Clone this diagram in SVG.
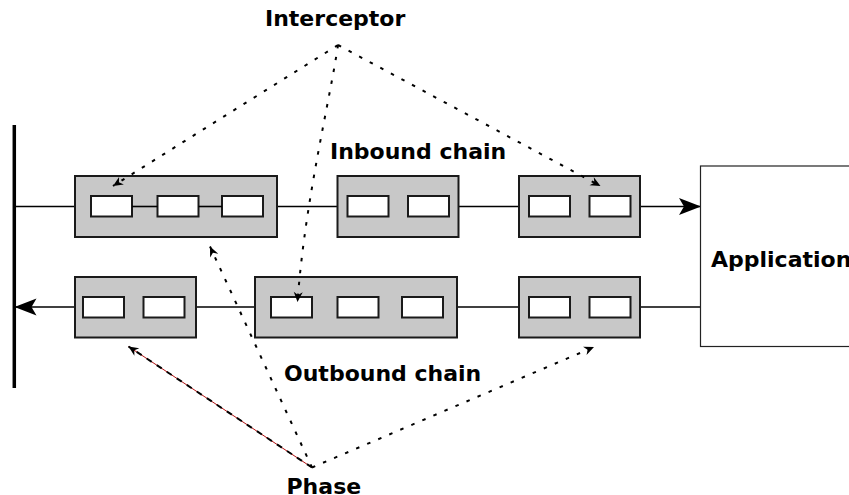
<svg xmlns="http://www.w3.org/2000/svg" width="849" height="495" viewBox="0 0 849 495">
<style>
.phase{fill:#c8c8c8;stroke:#1a1a1a;stroke-width:2}
.icp{fill:#ffffff;stroke:#1a1a1a;stroke-width:2}
.lbl{font-family:"DejaVu Sans",sans-serif;font-weight:bold;font-size:22px;fill:#000}
.chain{stroke:#000;stroke-width:1.6;fill:none}
.dot{stroke:#000;stroke-width:2;fill:none;stroke-dasharray:3.5,8.5}
</style>
<defs>
<marker id="big" viewBox="-23 -10 24 20" refX="0" refY="0" markerWidth="24" markerHeight="20" markerUnits="userSpaceOnUse" orient="auto">
<path d="M0,0 L-22,-8.5 L-17,0 L-22,8.5 Z" fill="#000"/>
</marker>
<marker id="small" viewBox="-11 -6 12 12" refX="0" refY="0" markerWidth="12" markerHeight="12" markerUnits="userSpaceOnUse" orient="auto">
<path d="M0,0 L-10,-4.5 L-7,0 L-10,4.5 Z" fill="#000"/>
</marker>
</defs>
<rect width="849" height="495" fill="#fff"/>

<g id="connectors">
<line class="chain" x1="14" y1="206.5" x2="701" y2="206.5" marker-end="url(#big)"/>
<line class="chain" x1="700" y1="307" x2="14.5" y2="307" marker-end="url(#big)"/>
</g>

<g id="boundary">
<line x1="14.3" y1="125" x2="14.3" y2="388" stroke="#000" stroke-width="3.5"/>
</g>

<g id="application">
<rect x="700.5" y="166" width="160" height="180.5" fill="#fff" stroke="#222" stroke-width="1.2"/>
<text class="lbl" x="711" y="267">Application</text>
</g>

<g id="in-phase-1">
<rect class="phase" x="75" y="176" width="202" height="61"/>
<rect class="icp" x="91" y="196" width="41" height="20.5"/>
<rect class="icp" x="157.5" y="196" width="41" height="20.5"/>
<rect class="icp" x="222" y="196" width="41" height="20.5"/>
<line class="chain" x1="132" y1="206.5" x2="157.5" y2="206.5"/>
<line class="chain" x1="198.5" y1="206.5" x2="222" y2="206.5"/>
</g>
<g id="in-phase-2">
<rect class="phase" x="337.5" y="176" width="121" height="61"/>
<rect class="icp" x="347.5" y="196" width="41" height="20.5"/>
<rect class="icp" x="408" y="196" width="41" height="20.5"/>
</g>
<g id="in-phase-3">
<rect class="phase" x="519" y="176" width="121" height="61"/>
<rect class="icp" x="529" y="196" width="41" height="20.5"/>
<rect class="icp" x="589.5" y="196" width="41" height="20.5"/>
</g>

<g id="out-phase-1">
<rect class="phase" x="75" y="277" width="121" height="60.5"/>
<rect class="icp" x="83" y="297" width="41" height="20.5"/>
<rect class="icp" x="143.5" y="297" width="41" height="20.5"/>
</g>
<g id="out-phase-2">
<rect class="phase" x="255" y="277" width="202" height="60.5"/>
<rect class="icp" x="271" y="297" width="41" height="20.5"/>
<rect class="icp" x="337.5" y="297" width="41" height="20.5"/>
<rect class="icp" x="402" y="297" width="41" height="20.5"/>
</g>
<g id="out-phase-3">
<rect class="phase" x="519" y="277" width="121" height="60.5"/>
<rect class="icp" x="529" y="297" width="41" height="20.5"/>
<rect class="icp" x="589.5" y="297" width="41" height="20.5"/>
</g>

<g id="labels">
<text class="lbl" x="265" y="26">Interceptor</text>
<text class="lbl" x="330" y="158.5">Inbound chain</text>
<text class="lbl" x="284" y="380.5">Outbound chain</text>
<text class="lbl" x="286.5" y="493.5">Phase</text>
</g>

<g id="pointers">
<line class="dot" x1="338" y1="45" x2="113" y2="186" marker-end="url(#small)"/>
<line class="dot" x1="338" y1="45" x2="600.5" y2="186" marker-end="url(#small)"/>
<path class="dot" d="M338,45 C330,100 305,200 297.5,302" marker-end="url(#small)"/>
<line class="dot" x1="312" y1="467.5" x2="210" y2="246.5" marker-end="url(#small)"/>
<line class="dot" x1="312" y1="467.5" x2="594" y2="347" marker-end="url(#small)"/>
<line x1="312" y1="467.5" x2="128.5" y2="346.5" stroke="#b01010" stroke-width="1"/>
<line x1="312" y1="467.5" x2="128.5" y2="346.5" stroke="#000" stroke-width="2" stroke-dasharray="6,6" marker-end="url(#small)"/>
</g>
</svg>
